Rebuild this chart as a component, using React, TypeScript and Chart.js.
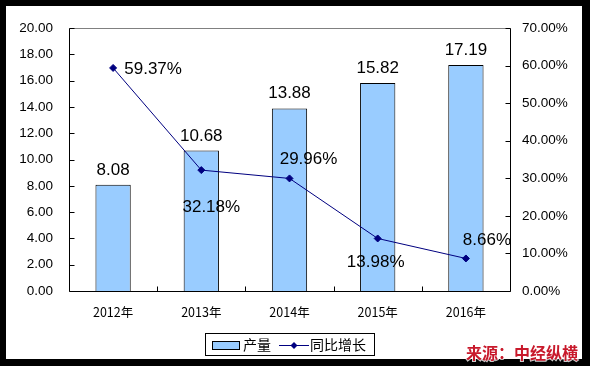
import React, { useEffect, useRef } from "react";
import { Chart, registerables } from "chart.js";

Chart.register(...registerables);

const categories = ["2012年", "2013年", "2014年", "2015年", "2016年"];
const outputValues = [8.08, 10.68, 13.88, 15.82, 17.19];
const growthValues = [59.37, 32.18, 29.96, 13.98, 8.66];
const seriesNames = ["产量", "同比增长"];
const sourceText = "来源：中经纵横";

// label offsets (px) for the growth labels, relative to their points
const growthLabelOffsets = [
  [40, 1],
  [10, 37],
  [19, -19],
  [-2, 24],
  [21, -18],
];

const BAR_FILL = "#99CCFF";
const NAVY = "#000080";
const NUM_FONT = '"Liberation Sans", Arial, sans-serif';
const CJK_FONT = '"Noto Sans CJK SC", "Liberation Sans", sans-serif';

const framePlugin = {
  id: "frame",
  beforeDraw(chart: any) {
    const ctx = chart.ctx;
    ctx.save();
    ctx.fillStyle = "#000";
    ctx.fillRect(0, 0, chart.width, chart.height);
    ctx.fillStyle = "#fff";
    ctx.fillRect(6, 6, 576, 353);
    ctx.restore();
  },
  afterDatasetsDraw(chart: any) {
    const ctx = chart.ctx;
    const a = chart.chartArea;
    const L = Math.round(a.left) + 0.5;
    const R = Math.round(a.right) + 0.5;
    const T = Math.round(a.top) + 0.5;
    const B = Math.round(a.bottom) + 0.5;
    ctx.save();
    ctx.lineWidth = 1;
    ctx.strokeStyle = "#808080";
    ctx.beginPath();
    ctx.moveTo(L, T);
    ctx.lineTo(R, T);
    ctx.stroke();
    ctx.strokeStyle = "#000";
    ctx.beginPath();
    ctx.moveTo(L, T);
    ctx.lineTo(L, B);
    ctx.lineTo(R, B);
    ctx.moveTo(R, T);
    ctx.lineTo(R, B);
    // left ticks (inside)
    const y = chart.scales.y;
    y.ticks.forEach((t: any) => {
      const py = Math.round(y.getPixelForValue(t.value)) + 0.5;
      ctx.moveTo(L, py);
      ctx.lineTo(L + 5, py);
    });
    const y1 = chart.scales.y1;
    y1.ticks.forEach((t: any) => {
      const py = Math.round(y1.getPixelForValue(t.value)) + 0.5;
      ctx.moveTo(R, py);
      ctx.lineTo(R - 5, py);
    });
    const n = categories.length;
    const w = (a.right - a.left) / n;
    for (let i = 1; i < n; i++) {
      const px = Math.round(a.left + i * w) + 0.5;
      ctx.moveTo(px, B);
      ctx.lineTo(px, B - 5);
    }
    ctx.stroke();
    ctx.restore();
  },
  afterDraw(chart: any) {
    const ctx = chart.ctx;
    ctx.save();
    // bar value labels
    ctx.fillStyle = "#000";
    ctx.font = `17px ${NUM_FONT}`;
    ctx.textAlign = "center";
    ctx.textBaseline = "alphabetic";
    const barMeta = chart.getDatasetMeta(1);
    barMeta.data.forEach((el: any, i: number) => {
      ctx.fillText(outputValues[i].toFixed(2), el.x, el.y - 10);
    });
    // growth labels
    ctx.textBaseline = "middle";
    const lineMeta = chart.getDatasetMeta(0);
    lineMeta.data.forEach((el: any, i: number) => {
      const [dx, dy] = growthLabelOffsets[i];
      ctx.fillText(growthValues[i].toFixed(2) + "%", el.x + dx, el.y + dy);
    });

    // legend
    ctx.lineWidth = 1;
    ctx.fillStyle = "#fff";
    ctx.strokeStyle = "#000";
    ctx.fillRect(205.5, 333.5, 169, 22);
    ctx.strokeRect(205.5, 333.5, 169, 22);
    ctx.fillStyle = BAR_FILL;
    ctx.fillRect(212.5, 341.5, 27, 8);
    ctx.strokeRect(212.5, 341.5, 27, 8);
    ctx.fillStyle = "#000";
    ctx.font = `14px ${CJK_FONT}`;
    ctx.textAlign = "left";
    ctx.textBaseline = "middle";
    ctx.fillText(seriesNames[0], 243, 345);
    ctx.strokeStyle = NAVY;
    ctx.beginPath();
    ctx.moveTo(279, 345.5);
    ctx.lineTo(309, 345.5);
    ctx.stroke();
    ctx.fillStyle = NAVY;
    ctx.beginPath();
    ctx.moveTo(294, 342);
    ctx.lineTo(297.5, 345.5);
    ctx.lineTo(294, 349);
    ctx.lineTo(290.5, 345.5);
    ctx.closePath();
    ctx.fill();
    ctx.fillStyle = "#000";
    ctx.fillText(seriesNames[1], 310, 345);

    // source
    ctx.font = `bold 16px ${CJK_FONT}`;
    ctx.textAlign = "left";
    ctx.textBaseline = "middle";
    ctx.lineWidth = 2;
    ctx.strokeStyle = "rgba(255,255,255,0.8)";
    ctx.strokeText(sourceText, 466, 353);
    ctx.fillStyle = "#C8192B";
    ctx.fillText(sourceText, 466, 353);
    ctx.restore();
  },
};

export default function App() {
  const ref = useRef<HTMLCanvasElement | null>(null);
  useEffect(() => {
    if (!ref.current) return;
    const chart = new Chart(ref.current, {
      type: "bar",
      data: {
        labels: categories,
        datasets: [
          {
            type: "line",
            label: seriesNames[1],
            data: growthValues,
            yAxisID: "y1",
            borderColor: NAVY,
            backgroundColor: NAVY,
            borderWidth: 1,
            pointStyle: "rectRot",
            pointRadius: 3.5,
            pointBackgroundColor: NAVY,
            pointBorderColor: NAVY,
            pointBorderWidth: 1,
            tension: 0,
            order: 0,
          } as any,
          {
            type: "bar",
            label: seriesNames[0],
            data: outputValues,
            yAxisID: "y",
            backgroundColor: BAR_FILL,
            borderColor: "#000",
            borderWidth: 1,
            barPercentage: 0.4,
            categoryPercentage: 1,
            order: 1,
          } as any,
        ],
      },
      options: {
        responsive: false,
        animation: false,
        layout: { padding: { top: 28, left: 0, right: 0, bottom: 0 } },
        plugins: {
          legend: { display: false },
          tooltip: { enabled: false },
          title: { display: false },
        },
        scales: {
          x: {
            type: "category",
            offset: true,
            grid: { display: false, drawTicks: false },
            border: { display: false },
            ticks: {
              color: "#000",
              font: { family: CJK_FONT, size: 12.5 },
              padding: 13.5,
              maxRotation: 0,
            },
            afterFit: (s: any) => {
              s.height = 75;
            },
          },
          y: {
            position: "left",
            min: 0,
            max: 20,
            grid: { display: false, drawTicks: false },
            border: { display: false },
            ticks: {
              stepSize: 2,
              color: "#000",
              font: { family: NUM_FONT, size: 13.5 },
              padding: 16,
              callback: (v: any) => Number(v).toFixed(2),
            },
            afterFit: (s: any) => {
              s.width = 69;
            },
          },
          y1: {
            position: "right",
            min: 0,
            max: 70,
            grid: { display: false, drawTicks: false },
            border: { display: false },
            ticks: {
              stepSize: 10,
              color: "#000",
              font: { family: NUM_FONT, size: 13.5 },
              padding: 12,
              callback: (v: any) => Number(v).toFixed(2) + "%",
            },
            afterFit: (s: any) => {
              s.width = 80;
            },
          },
        },
      } as any,
      plugins: [framePlugin],
    });
    return () => chart.destroy();
  }, []);
  return (
    <div style={{ position: "fixed", left: 0, top: 0, width: 590, height: 366 }}>
      <canvas ref={ref} width={590} height={366} style={{ display: "block" }} />
    </div>
  );
}
